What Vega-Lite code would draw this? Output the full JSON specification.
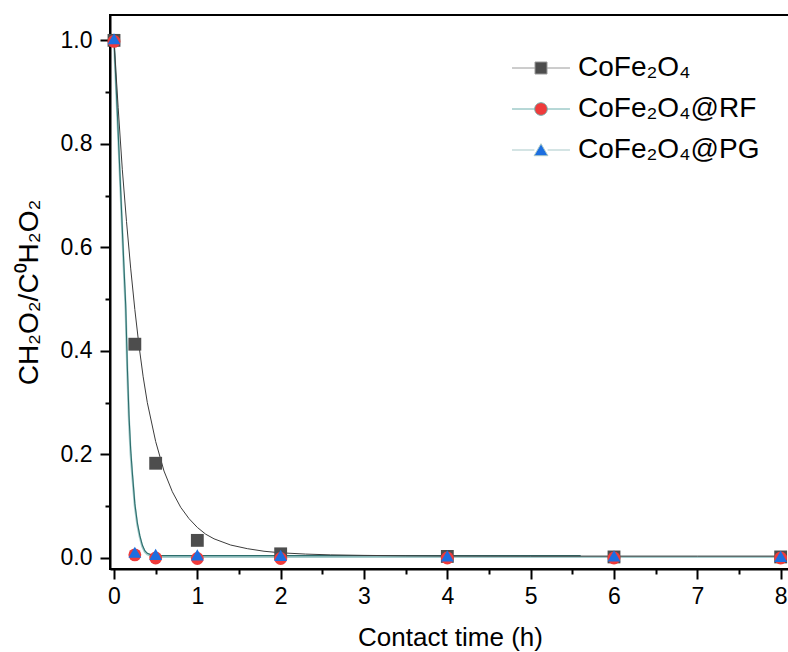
{
  "$schema": "https://vega.github.io/schema/vega-lite/v6.json",
  "width": 680,
  "height": 554,
  "autosize": "none",
  "padding": {"left": 110, "top": 15, "right": 0, "bottom": 83},
  "background": "white",
  "config": {
    "view": {"stroke": "black", "strokeWidth": 2},
    "font": "Liberation Sans"
  },
  "datasets": {
    "curves": [
      {"fit": "PG", "t": 0, "v": 1.0}, {"fit": "PG", "t": 0.04, "v": 0.855}, {"fit": "PG", "t": 0.08, "v": 0.705}, {"fit": "PG", "t": 0.12, "v": 0.55}, {"fit": "PG", "t": 0.14, "v": 0.48}, {"fit": "PG", "t": 0.16, "v": 0.36}, {"fit": "PG", "t": 0.18, "v": 0.265}, {"fit": "PG", "t": 0.2, "v": 0.2}, {"fit": "PG", "t": 0.22, "v": 0.158}, {"fit": "PG", "t": 0.25, "v": 0.1}, {"fit": "PG", "t": 0.28, "v": 0.064}, {"fit": "PG", "t": 0.31, "v": 0.04}, {"fit": "PG", "t": 0.34, "v": 0.022}, {"fit": "PG", "t": 0.37, "v": 0.012}, {"fit": "PG", "t": 0.4, "v": 0.007}, {"fit": "PG", "t": 0.45, "v": 0.004}, {"fit": "PG", "t": 0.5, "v": 0.003}, {"fit": "PG", "t": 0.6, "v": 0.002}, {"fit": "PG", "t": 1, "v": 0.002}, {"fit": "PG", "t": 2, "v": 0.002}, {"fit": "PG", "t": 4, "v": 0.002}, {"fit": "PG", "t": 6, "v": 0.002}, {"fit": "PG", "t": 8, "v": 0.002},
      {"fit": "RF", "t": 0, "v": 1.0}, {"fit": "RF", "t": 0.04, "v": 0.86}, {"fit": "RF", "t": 0.08, "v": 0.71}, {"fit": "RF", "t": 0.12, "v": 0.56}, {"fit": "RF", "t": 0.14, "v": 0.49}, {"fit": "RF", "t": 0.16, "v": 0.37}, {"fit": "RF", "t": 0.18, "v": 0.275}, {"fit": "RF", "t": 0.2, "v": 0.21}, {"fit": "RF", "t": 0.22, "v": 0.165}, {"fit": "RF", "t": 0.25, "v": 0.105}, {"fit": "RF", "t": 0.28, "v": 0.068}, {"fit": "RF", "t": 0.31, "v": 0.043}, {"fit": "RF", "t": 0.34, "v": 0.025}, {"fit": "RF", "t": 0.37, "v": 0.014}, {"fit": "RF", "t": 0.4, "v": 0.009}, {"fit": "RF", "t": 0.45, "v": 0.006}, {"fit": "RF", "t": 0.5, "v": 0.005}, {"fit": "RF", "t": 0.6, "v": 0.0045}, {"fit": "RF", "t": 1, "v": 0.0045}, {"fit": "RF", "t": 2, "v": 0.0045}, {"fit": "RF", "t": 4, "v": 0.0045}, {"fit": "RF", "t": 5.6, "v": 0.0045},
      {"fit": "Co", "t": 0, "v": 1.0}, {"fit": "Co", "t": 0.05, "v": 0.87}, {"fit": "Co", "t": 0.1, "v": 0.75}, {"fit": "Co", "t": 0.15, "v": 0.65}, {"fit": "Co", "t": 0.2, "v": 0.56}, {"fit": "Co", "t": 0.25, "v": 0.48}, {"fit": "Co", "t": 0.3, "v": 0.41}, {"fit": "Co", "t": 0.35, "v": 0.35}, {"fit": "Co", "t": 0.4, "v": 0.3}, {"fit": "Co", "t": 0.5, "v": 0.225}, {"fit": "Co", "t": 0.6, "v": 0.168}, {"fit": "Co", "t": 0.7, "v": 0.128}, {"fit": "Co", "t": 0.8, "v": 0.098}, {"fit": "Co", "t": 0.9, "v": 0.076}, {"fit": "Co", "t": 1.0, "v": 0.059}, {"fit": "Co", "t": 1.1, "v": 0.046}, {"fit": "Co", "t": 1.2, "v": 0.037}, {"fit": "Co", "t": 1.4, "v": 0.025}, {"fit": "Co", "t": 1.6, "v": 0.018}, {"fit": "Co", "t": 1.8, "v": 0.013}, {"fit": "Co", "t": 2.0, "v": 0.01}, {"fit": "Co", "t": 2.3, "v": 0.0075}, {"fit": "Co", "t": 2.6, "v": 0.006}, {"fit": "Co", "t": 3.0, "v": 0.005}, {"fit": "Co", "t": 3.5, "v": 0.0042}, {"fit": "Co", "t": 4, "v": 0.0038}, {"fit": "Co", "t": 5, "v": 0.0035}, {"fit": "Co", "t": 6, "v": 0.0035}, {"fit": "Co", "t": 7, "v": 0.0035}, {"fit": "Co", "t": 8, "v": 0.0035}
    ],
    "points": [
      {"series": "CoFe₂O₄", "t": 0, "v": 1.0}, {"series": "CoFe₂O₄", "t": 0.25, "v": 0.413}, {"series": "CoFe₂O₄", "t": 0.5, "v": 0.183}, {"series": "CoFe₂O₄", "t": 1, "v": 0.034}, {"series": "CoFe₂O₄", "t": 2, "v": 0.008}, {"series": "CoFe₂O₄", "t": 4, "v": 0.003}, {"series": "CoFe₂O₄", "t": 6, "v": 0.002}, {"series": "CoFe₂O₄", "t": 8, "v": 0.002},
      {"series": "CoFe₂O₄@RF", "t": 0, "v": 0.998}, {"series": "CoFe₂O₄@RF", "t": 0.25, "v": 0.006}, {"series": "CoFe₂O₄@RF", "t": 0.5, "v": 0.0}, {"series": "CoFe₂O₄@RF", "t": 1, "v": -0.001}, {"series": "CoFe₂O₄@RF", "t": 2, "v": -0.001}, {"series": "CoFe₂O₄@RF", "t": 4, "v": 0.0}, {"series": "CoFe₂O₄@RF", "t": 6, "v": 0.0}, {"series": "CoFe₂O₄@RF", "t": 8, "v": 0.0},
      {"series": "CoFe₂O₄@PG", "t": 0, "v": 1.003}, {"series": "CoFe₂O₄@PG", "t": 0.25, "v": 0.011}, {"series": "CoFe₂O₄@PG", "t": 0.5, "v": 0.007}, {"series": "CoFe₂O₄@PG", "t": 1, "v": 0.006}, {"series": "CoFe₂O₄@PG", "t": 2, "v": 0.005}, {"series": "CoFe₂O₄@PG", "t": 4, "v": 0.004}, {"series": "CoFe₂O₄@PG", "t": 6, "v": 0.004}, {"series": "CoFe₂O₄@PG", "t": 8, "v": 0.003}
    ]
  },
  "encoding": {
    "x": {
      "field": "t", "type": "quantitative",
      "scale": {"domain": [-0.048, 8.112], "nice": false, "zero": false},
      "axis": {
        "title": "Contact time (h)",
        "values": [0, 0.5, 1, 1.5, 2, 2.5, 3, 3.5, 4, 4.5, 5, 5.5, 6, 6.5, 7, 7.5, 8],
        "labelExpr": "datum.value % 1 === 0 ? format(datum.value, 'd') : ''",
        "tickSize": {"condition": {"test": "datum.value % 1 !== 0", "value": 5}, "value": 10},
        "grid": false,
        "domainColor": "black", "domainWidth": 2,
        "tickColor": "black", "tickWidth": 2,
        "labelFont": "Liberation Sans", "labelFontSize": 23, "labelColor": "black", "labelPadding": 6,
        "titleFont": "Liberation Sans", "titleFontSize": 26, "titleFontWeight": "normal", "titleColor": "black", "titlePadding": 16
      }
    },
    "y": {
      "field": "v", "type": "quantitative",
      "scale": {"domain": [-0.0213, 1.049], "nice": false, "zero": false},
      "axis": {
        "title": "CH₂O₂/C⁰H₂O₂",
        "values": [0, 0.1, 0.2, 0.3, 0.4, 0.5, 0.6, 0.7, 0.8, 0.9, 1.0],
        "labelExpr": "round(datum.value * 10) % 2 === 1 ? '' : format(datum.value, '.1f')",
        "tickSize": {"condition": {"test": "round(datum.value * 10) % 2 === 1", "value": 5}, "value": 10},
        "grid": false,
        "domainColor": "black", "domainWidth": 2,
        "tickColor": "black", "tickWidth": 2,
        "labelFont": "Liberation Sans", "labelFontSize": 23, "labelColor": "black", "labelPadding": 8,
        "titleFont": "Liberation Sans", "titleFontSize": 28, "titleFontWeight": "normal", "titleColor": "black", "titlePadding": 17
      }
    }
  },
  "layer": [
    {
      "data": {"name": "curves"},
      "transform": [{"filter": "datum.fit === 'PG'"}],
      "mark": {"type": "line", "stroke": "#a6cccc", "strokeWidth": 2.2, "clip": true}
    },
    {
      "data": {"name": "curves"},
      "transform": [{"filter": "datum.fit === 'RF'"}],
      "mark": {"type": "line", "stroke": "#2c6e6c", "strokeWidth": 1.1, "clip": true}
    },
    {
      "data": {"name": "curves"},
      "transform": [{"filter": "datum.fit === 'Co'"}],
      "mark": {"type": "line", "stroke": "#3c3c3c", "strokeWidth": 1, "clip": true}
    },
    {
      "data": {"name": "points"},
      "mark": {"type": "point", "filled": true, "opacity": 1, "size": 165, "strokeWidth": 0},
      "encoding": {
        "fill": {
          "field": "series", "type": "nominal",
          "scale": {"domain": ["CoFe₂O₄", "CoFe₂O₄@RF", "CoFe₂O₄@PG"], "range": ["#4d4d4d", "#ef3b3b", "#1c6ee0"]},
          "legend": null
        },
        "shape": {
          "field": "series", "type": "nominal",
          "scale": {"domain": ["CoFe₂O₄", "CoFe₂O₄@RF", "CoFe₂O₄@PG"], "range": ["square", "circle", "triangle-up"]},
          "legend": null
        }
      }
    },
    {
      "data": {"name": "points"},
      "transform": [{"filter": "datum.t > 100"}],
      "mark": {"type": "point", "filled": true, "opacity": 1, "size": 144, "strokeWidth": 1},
      "encoding": {
        "fill": {
          "field": "series", "type": "nominal",
          "scale": {"domain": ["CoFe₂O₄", "CoFe₂O₄@RF", "CoFe₂O₄@PG"], "range": ["#4d4d4d", "#ef3b3b", "#1c6ee0"]},
          "legend": {
            "title": null, "orient": "none", "legendX": 417, "legendY": 39,
            "symbolSize": 144, "symbolStrokeWidth": 1, "labelFont": "Liberation Sans", "labelFontSize": 28, "labelColor": "black",
            "labelOffset": 23, "rowPadding": 13, "padding": 0, "labelLimit": 400
          }
        },
        "stroke": {
          "field": "series", "type": "nominal",
          "scale": {"domain": ["CoFe₂O₄", "CoFe₂O₄@RF", "CoFe₂O₄@PG"], "range": ["#9a9a9a", "#6fb0ae", "#a9c9c9"]},
          "legend": {
            "title": null, "orient": "none", "legendX": 417, "legendY": 39,
            "symbolSize": 144, "symbolStrokeWidth": 1, "labelFont": "Liberation Sans", "labelFontSize": 28, "labelColor": "black",
            "labelOffset": 23, "rowPadding": 13, "padding": 0, "labelLimit": 400
          }
        },
        "shape": {
          "field": "series", "type": "nominal",
          "scale": {
            "domain": ["CoFe₂O₄", "CoFe₂O₄@RF", "CoFe₂O₄@PG"],
            "range": [
              "M-4.83,0H-1M1,0H4.83M-1,-1H1V1H-1Z",
              "M-4.83,0H-1.05M1.05,0H4.83M-1.05,0A1.05,1.05,0,1,0,1.05,0A1.05,1.05,0,1,0,-1.05,0Z",
              "M-4.83,0H-1.1M1.1,0H4.83M0,-1.05L1.15,0.95H-1.15Z"
            ]
          },
          "legend": {
            "title": null, "orient": "none", "legendX": 417, "legendY": 39,
            "symbolSize": 144, "symbolStrokeWidth": 1, "labelFont": "Liberation Sans", "labelFontSize": 28, "labelColor": "black",
            "labelOffset": 23, "rowPadding": 13, "padding": 0, "labelLimit": 400
          }
        }
      }
    }
  ],
  "resolve": {
    "scale": {"fill": "independent", "shape": "independent", "stroke": "independent"},
    "legend": {"fill": "independent", "shape": "independent", "stroke": "independent"}
  }
}
